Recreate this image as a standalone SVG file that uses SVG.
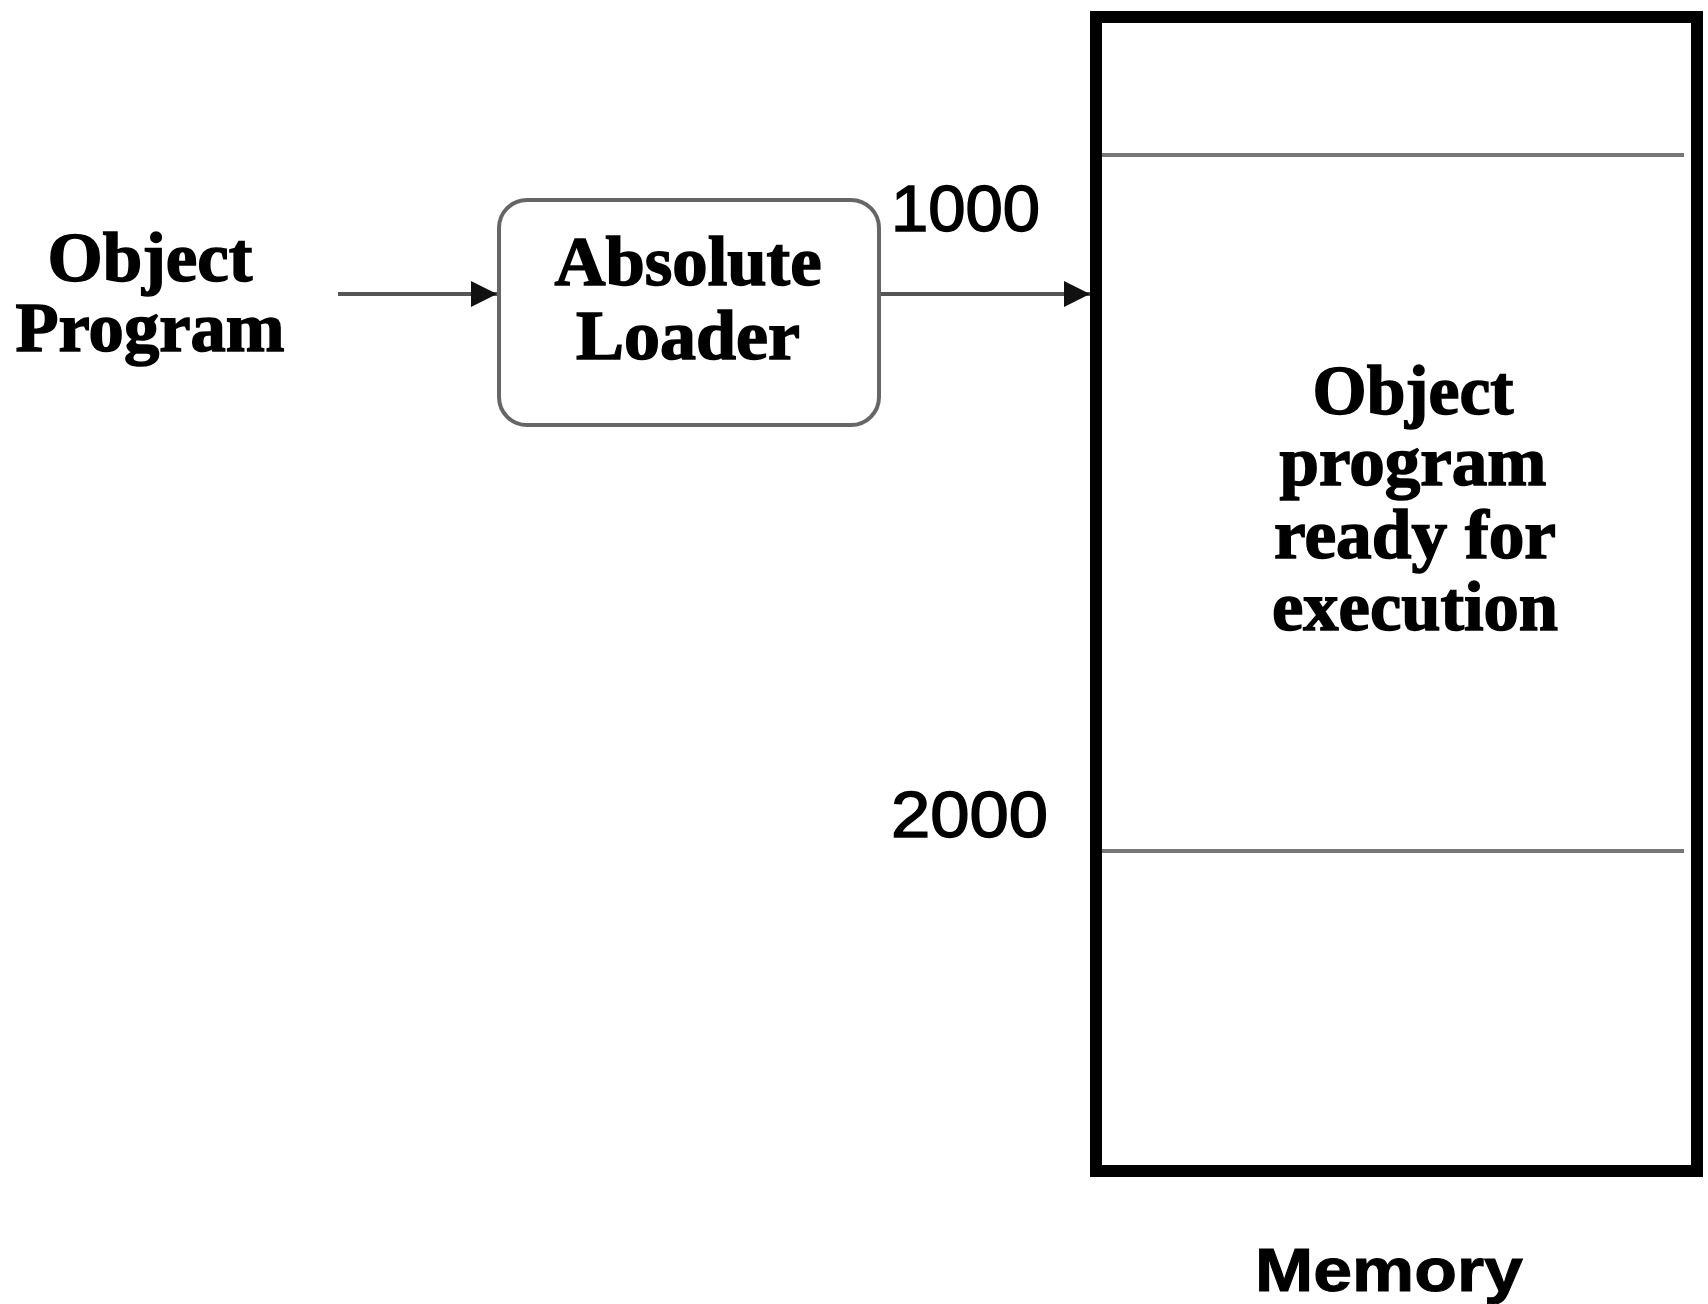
<svg xmlns="http://www.w3.org/2000/svg" width="1708" height="1304" viewBox="0 0 1708 1304">
<defs>
<style>
.lbl{font-family:"Liberation Serif","Times New Roman",serif;font-weight:bold;font-size:70px;fill:#000;stroke:#000;stroke-width:1.5;text-anchor:middle}
.num{font-family:"Liberation Sans",Arial,sans-serif;font-size:64px;fill:#000;stroke:#000;stroke-width:1.5}
.mem{font-family:"Liberation Sans",Arial,sans-serif;font-weight:bold;font-size:62px;fill:#000;stroke:#000;stroke-width:1;text-anchor:middle}
.conn{stroke:#555;stroke-width:4;fill:none}
.div{stroke:#777;stroke-width:4}
</style>
<marker id="arr" viewBox="0 0 10 10" refX="10" refY="5" markerWidth="7.5" markerHeight="6.5" markerUnits="strokeWidth" orient="auto">
<path d="M0,0 L10,5 L0,10 Z" fill="#111"/>
</marker>
</defs>
<rect width="1708" height="1304" fill="#fff"/>
<g id="connectors">
<line class="conn" x1="338" y1="294" x2="497" y2="294" marker-end="url(#arr)"/>
<line class="conn" x1="880" y1="294" x2="1090" y2="294" marker-end="url(#arr)"/>
</g>
<g id="object-program">
<text class="lbl" x="150" y="281" textLength="205" lengthAdjust="spacingAndGlyphs">Object</text>
<text class="lbl" x="150" y="351" textLength="269" lengthAdjust="spacingAndGlyphs">Program</text>
</g>
<g id="absolute-loader">
<rect x="499" y="200" width="380" height="225" rx="28" ry="28" fill="#fff" stroke="#666" stroke-width="4"/>
<text class="lbl" x="688" y="285" textLength="267" lengthAdjust="spacingAndGlyphs">Absolute</text>
<text class="lbl" x="688" y="359" textLength="224" lengthAdjust="spacingAndGlyphs">Loader</text>
</g>
<g id="memory">
<rect x="1096" y="17" width="601" height="1154" fill="#fff" stroke="#000" stroke-width="12"/>
<line class="div" x1="1102" y1="155" x2="1684" y2="155"/>
<line class="div" x1="1102" y1="851" x2="1684" y2="851"/>
<text class="lbl" x="1413" y="414" textLength="201" lengthAdjust="spacingAndGlyphs">Object</text>
<text class="lbl" x="1413" y="485" textLength="267" lengthAdjust="spacingAndGlyphs">program</text>
<text class="lbl" x="1415" y="558" textLength="282" lengthAdjust="spacingAndGlyphs">ready for</text>
<text class="lbl" x="1415" y="630" textLength="286" lengthAdjust="spacingAndGlyphs">execution</text>
<text class="mem" x="1389" y="1291" textLength="268" lengthAdjust="spacingAndGlyphs">Memory</text>
</g>
<g id="addr-1000">
<text class="num" x="891" y="231" textLength="149" lengthAdjust="spacingAndGlyphs">1000</text>
</g>
<g id="addr-2000">
<text class="num" x="891" y="837" textLength="157" lengthAdjust="spacingAndGlyphs">2000</text>
</g>
</svg>
